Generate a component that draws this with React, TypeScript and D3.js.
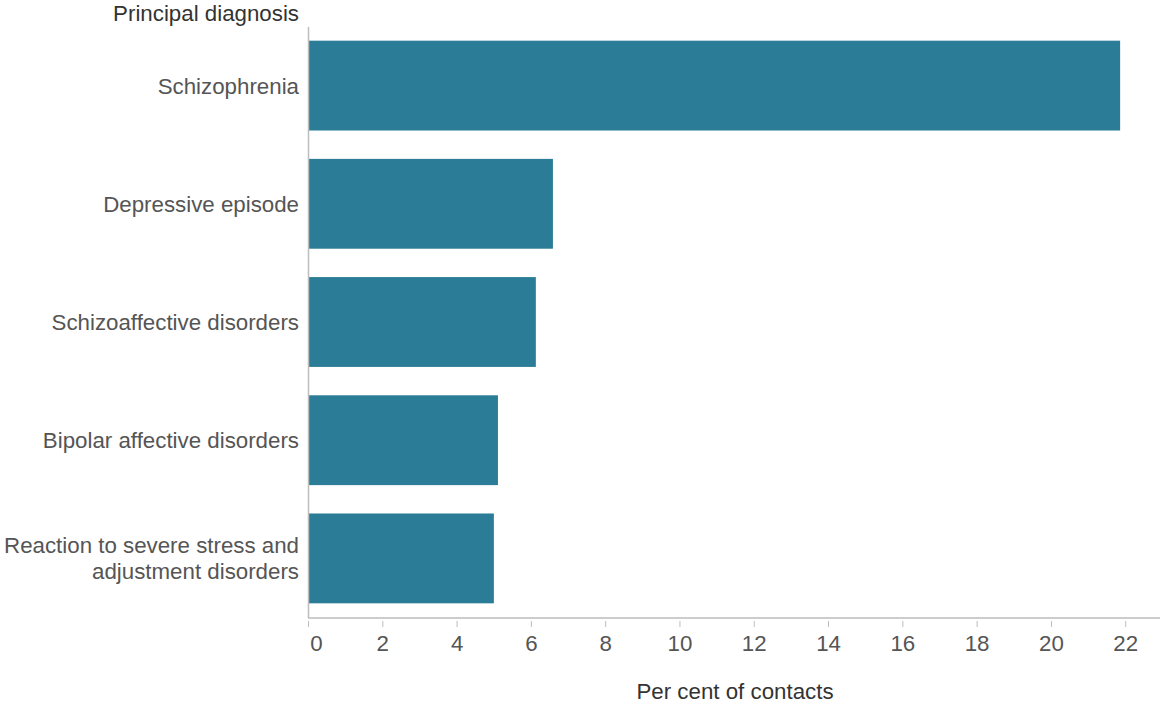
import React from "react";
import * as d3 from "d3";

const categories = [
  "Schizophrenia",
  "Depressive episode",
  "Schizoaffective disorders",
  "Bipolar affective disorders",
  "Reaction to severe stress and adjustment disorders",
];
const labelLines = [
  ["Schizophrenia"],
  ["Depressive episode"],
  ["Schizoaffective disorders"],
  ["Bipolar affective disorders"],
  ["Reaction to severe stress and", "adjustment disorders"],
];
const values = [21.85, 6.58, 6.12, 5.1, 4.99];
const xTicks = [0, 2, 4, 6, 8, 10, 12, 14, 16, 18, 20, 22];

const W = 1161;
const H = 706;
const FONT = "'Liberation Sans', Arial, sans-serif";
const TEXT = "#555555";
const BAR = "#2A7C97";
const AXIS = "#bdbdbd";
const FS = 22.3;

export default function App() {
  const x = d3.scaleLinear().domain([0, 22]).range([308.5, 1125.7]);
  const y = d3.scaleBand<string>().domain(categories).range([26.5, 617.5]).paddingInner(0.24).paddingOuter(0.12);
  const axisY = 618;
  return (
    <svg width={W} height={H} style={{ position: "absolute", left: 0, top: 0, background: "#fff" }} fontFamily={FONT}>
      <text x={299} y={21} textAnchor="end" fontSize={FS} fill="#333">Principal diagnosis</text>
      {categories.map((c, i) => (
        <rect key={c} x={x(0)} y={y(c)!} width={x(values[i]) - x(0)} height={y.bandwidth()} fill={BAR} />
      ))}
      <line x1={308.5} x2={308.5} y1={27} y2={axisY} stroke={AXIS} strokeWidth={1.5} />
      <line x1={308} x2={1160} y1={axisY} y2={axisY} stroke={AXIS} strokeWidth={1.5} />
      {categories.map((c, i) => {
        const lines = labelLines[i];
        const cy = y(c)! + y.bandwidth() / 2;
        const lh = 26;
        return (
          <text key={c} textAnchor="end" fontSize={FS} fill={TEXT}>
            {lines.map((l, j) => (
              <tspan key={j} x={299} y={cy + 8 + (j - (lines.length - 1) / 2) * lh}>{l}</tspan>
            ))}
          </text>
        );
      })}
      {xTicks.map((t) => (
        <g key={t}>
          <line x1={x(t)} x2={x(t)} y1={axisY + 3} y2={axisY + 9} stroke={AXIS} strokeWidth={1} />
          <text x={t === 0 ? x(t) + 8 : x(t)} y={651} textAnchor="middle" fontSize={FS} fill={TEXT}>{t}</text>
        </g>
      ))}
      <text x={735} y={699} textAnchor="middle" fontSize={FS} fill="#333">Per cent of contacts</text>
    </svg>
  );
}
